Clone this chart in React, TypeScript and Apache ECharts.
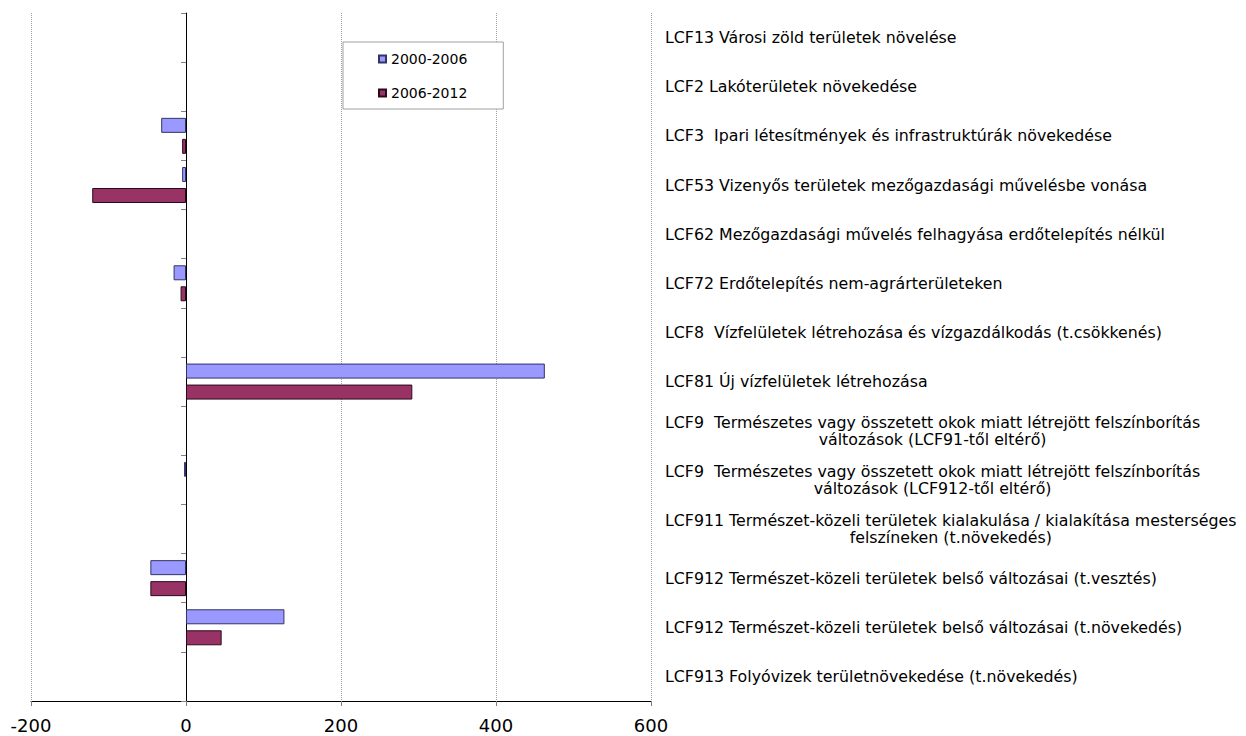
import React, { useEffect, useRef } from "react";
import * as echarts from "echarts";

const categories: string[] = [
  "LCF13 Városi zöld területek növelése",
  "LCF2 Lakóterületek növekedése",
  "LCF3  Ipari létesítmények és infrastruktúrák növekedése",
  "LCF53 Vizenyős területek mezőgazdasági művelésbe vonása",
  "LCF62 Mezőgazdasági művelés felhagyása erdőtelepítés nélkül",
  "LCF72 Erdőtelepítés nem-agrárterületeken",
  "LCF8  Vízfelületek létrehozása és vízgazdálkodás (t.csökkenés)",
  "LCF81 Új vízfelületek létrehozása",
  "LCF9  Természetes vagy összetett okok miatt létrejött felszínborítás\nváltozások (LCF91-től eltérő)",
  "LCF9  Természetes vagy összetett okok miatt létrejött felszínborítás\nváltozások (LCF912-től eltérő)",
  "LCF911 Természet-közeli területek kialakulása / kialakítása mesterséges\nfelszíneken (t.növekedés)",
  "LCF912 Természet-közeli területek belső változásai (t.vesztés)",
  "LCF912 Természet-közeli területek belső változásai (t.növekedés)",
  "LCF913 Folyóvizek területnövekedése (t.növekedés)",
];

const seriesNames: string[] = ["2000-2006", "2006-2012"];

const values2000_2006: (number | null)[] = [
  null, null, -32, -5, null, -16, null, 463, null, -2.5, null, -46, 127, null,
];

const values2006_2012: (number | null)[] = [
  null, null, -5, -121, null, -7, null, 292, null, null, null, -46, 46, null,
];

const xTicks = { min: -200, max: 600, interval: 200 };

const FONT = "DejaVu Sans";

export default function App() {
  const ref = useRef<HTMLDivElement>(null);

  useEffect(() => {
    if (!ref.current) return;
    const chart = echarts.init(ref.current, undefined, { renderer: "svg" });

    const labelFormatter = (v: string) => {
      if (v.indexOf("\n") >= 0) {
        return v
          .split("\n")
          .map((l) => "{c|" + l + "}")
          .join("\n");
      }
      return v;
    };

    chart.setOption({
      animation: false,
      backgroundColor: "#ffffff",
      grid: { left: 31, right: 595, top: 13, bottom: 35, containLabel: false },
      legend: {
        data: seriesNames,
        orient: "vertical",
        left: 343,
        top: 42,
        backgroundColor: "#ffffff",
        borderColor: "#a0a0a0",
        borderWidth: 1,
        padding: [10, 36, 9, 35],
        itemGap: 20,
        itemWidth: 7,
        itemHeight: 7,
        icon: "rect",
        textStyle: { fontFamily: FONT, fontSize: 14, color: "#000" },
      },
      xAxis: {
        type: "value",
        min: xTicks.min,
        max: xTicks.max,
        interval: xTicks.interval,
        axisLine: { show: true, onZero: false, lineStyle: { color: "#000", width: 1 } },
        axisTick: { show: true, length: 5, lineStyle: { color: "#808080" } },
        axisLabel: { fontFamily: FONT, fontSize: 18, color: "#000", margin: 15 },
        splitLine: { show: true, lineStyle: { color: "#a0a0a0", type: "dotted", width: 1 } },
      },
      yAxis: [
        {
          type: "category",
          data: categories,
          inverse: true,
          position: "left",
          axisLine: { show: true, onZero: true, lineStyle: { color: "#000", width: 1 } },
          axisTick: { show: true, length: 5, interval: 0, lineStyle: { color: "#808080" } },
          axisLabel: { show: false },
          splitLine: { show: false },
        },
        {
          type: "category",
          data: categories,
          inverse: true,
          position: "right",
          axisLine: { show: false, onZero: false },
          axisTick: { show: false },
          axisLabel: {
            show: true,
            interval: 0,
            margin: 14,
            align: "left",
            fontFamily: FONT,
            fontSize: 15.8,
            lineHeight: 17,
            color: "#000",
            formatter: labelFormatter,
            rich: {
              c: { align: "center", fontFamily: FONT, fontSize: 15.8, lineHeight: 17, color: "#000" },
            },
          },
          splitLine: { show: false },
        },
      ],
      series: [
        {
          name: seriesNames[0],
          type: "bar",
          yAxisIndex: 0,
          data: values2000_2006,
          barWidth: 15,
          barGap: "40%",
          itemStyle: { color: "#9999FF", borderColor: "#333366", borderWidth: 1 },
        },
        {
          name: seriesNames[1],
          type: "bar",
          yAxisIndex: 0,
          data: values2006_2012,
          barWidth: 15,
          barGap: "40%",
          itemStyle: { color: "#993366", borderColor: "#2a0a1a", borderWidth: 1 },
        },
      ],
    });

    return () => chart.dispose();
  }, []);

  return (
    <div
      ref={ref}
      style={{ position: "fixed", left: 0, top: 0, width: 1246, height: 736 }}
    />
  );
}
